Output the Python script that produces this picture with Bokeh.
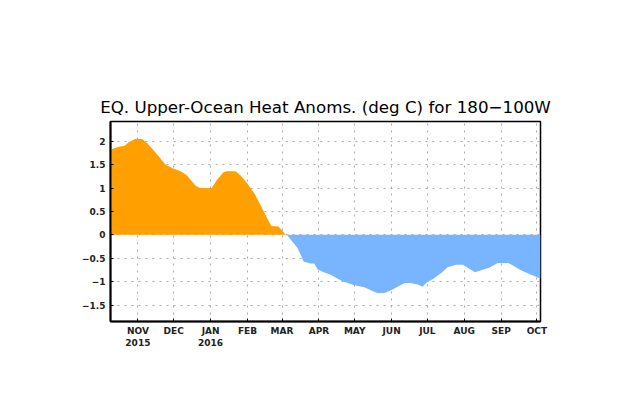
import pandas as pd
from bokeh.plotting import figure
from bokeh.models import Range1d, FixedTicker
from bokeh.embed import file_html
from bokeh.resources import INLINE

# ---- data ----
pos_dates = ["2015-10-09", "2015-10-16", "2015-10-21", "2015-10-24", "2015-10-30",
             "2015-11-05", "2015-11-09", "2015-11-13", "2015-11-20", "2015-11-24",
             "2015-12-01", "2015-12-07", "2015-12-12", "2015-12-19", "2015-12-23",
             "2016-01-02", "2016-01-06", "2016-01-12", "2016-01-15", "2016-01-22",
             "2016-01-26", "2016-02-01", "2016-02-07", "2016-02-12", "2016-02-17",
             "2016-02-21", "2016-02-27", "2016-03-01", "2016-03-04"]
pos_values = [1.82, 1.88, 1.90, 1.97, 2.05,
              2.04, 1.95, 1.84, 1.63, 1.50,
              1.41, 1.36, 1.27, 1.06, 1.00,
              1.00, 1.16, 1.34, 1.36, 1.36,
              1.27, 1.09, 0.88, 0.63, 0.38,
              0.19, 0.18, 0.10, 0.00]

neg_dates = ["2016-03-05", "2016-03-14", "2016-03-18", "2016-03-19", "2016-03-25",
             "2016-03-28", "2016-03-31", "2016-04-05", "2016-04-11", "2016-04-17",
             "2016-04-22", "2016-04-30", "2016-05-09", "2016-05-16", "2016-05-20",
             "2016-05-26", "2016-06-01", "2016-06-06", "2016-06-12", "2016-06-17",
             "2016-06-23", "2016-06-27", "2016-06-30", "2016-07-07", "2016-07-13",
             "2016-07-18", "2016-07-25", "2016-07-31", "2016-08-04", "2016-08-10",
             "2016-08-17", "2016-08-22", "2016-08-29", "2016-09-07", "2016-09-12",
             "2016-09-18", "2016-09-26", "2016-10-04"]
neg_values = [0.00, -0.28, -0.50, -0.57, -0.61,
              -0.61, -0.74, -0.80, -0.85, -0.94,
              -1.00, -1.07, -1.12, -1.20, -1.24,
              -1.24, -1.18, -1.11, -1.03, -1.03,
              -1.06, -1.11, -1.03, -0.92, -0.81,
              -0.69, -0.64, -0.64, -0.70, -0.80,
              -0.74, -0.70, -0.60, -0.60, -0.67,
              -0.76, -0.85, -0.93]

month_starts = ["2015-11-01", "2015-12-01", "2016-01-01", "2016-02-01", "2016-03-01",
                "2016-04-01", "2016-05-01", "2016-06-01", "2016-07-01", "2016-08-01",
                "2016-09-01", "2016-10-01"]
month_labels = ["NOV\n2015", "DEC", "JAN\n2016", "FEB", "MAR", "APR", "MAY", "JUN",
                "JUL", "AUG", "SEP", "OCT"]
y_ticks = [-1.5, -1, -0.5, 0, 0.5, 1, 1.5, 2]
y_labels = ["\u22121.5", "\u22121", "\u22120.5", "0", "0.5", "1", "1.5", "2"]
x_start, x_end = "2015-10-09", "2016-10-04"

title = "EQ. Upper-Ocean Heat Anoms. (deg C) for 180\u2212100W"

base = pd.Timestamp("2015-11-01")
def days(ds):
    return [(pd.Timestamp(d) - base).days for d in ds]

p = figure(output_backend="svg", toolbar_location=None,
           width=632, height=409,
           frame_width=430, frame_height=200,
           min_border_left=110, min_border_right=92,
           min_border_top=121, min_border_bottom=88,
           x_range=Range1d(days([x_start])[0], days([x_end])[0]),
           y_range=Range1d(-1.85, 2.42),
           title=title)

p.title.text_font = "DejaVu Sans"
p.title.text_font_size = "16.7px"
p.title.text_font_style = "normal"
p.title.text_color = "black"
p.title.align = "center"
p.title.standoff = 10

p.varea(x=days(pos_dates), y1=0, y2=pos_values, fill_color="#FFA000")
p.varea(x=days(neg_dates), y1=0, y2=neg_values, fill_color="#78B4FF")

xt = days(month_starts)
p.xaxis.ticker = FixedTicker(ticks=xt)
p.xaxis.major_label_overrides = {t: l for t, l in zip(xt, month_labels)}
p.yaxis.ticker = FixedTicker(ticks=y_ticks)
p.yaxis.major_label_overrides = {t: l for t, l in zip(y_ticks, y_labels)}

for ax in (p.xaxis, p.yaxis):
    ax.major_label_text_font = "DejaVu Sans"
    ax.major_label_text_font_size = "9px"
    ax.major_label_text_font_style = "bold"
    ax.major_label_text_color = "#222222"
    ax.axis_line_width = 2
    ax.axis_line_color = "black"
    ax.major_tick_line_color = "black"
    ax.minor_tick_line_color = None
    ax.major_tick_in = 3
    ax.major_tick_out = 0
p.xaxis.major_label_standoff = 4
p.yaxis.major_label_standoff = 5

p.xgrid.grid_line_color = "#aaaaaa"
p.ygrid.grid_line_color = "#aaaaaa"
p.xgrid.grid_line_dash = "2 5"
p.ygrid.grid_line_dash = "2 5"
p.xgrid.grid_line_width = 1
p.ygrid.grid_line_width = 1

p.outline_line_color = "black"
p.outline_line_width = 1.5
p.background_fill_color = "white"
p.border_fill_color = "white"

open("out.html", "w").write(file_html(p, INLINE))
